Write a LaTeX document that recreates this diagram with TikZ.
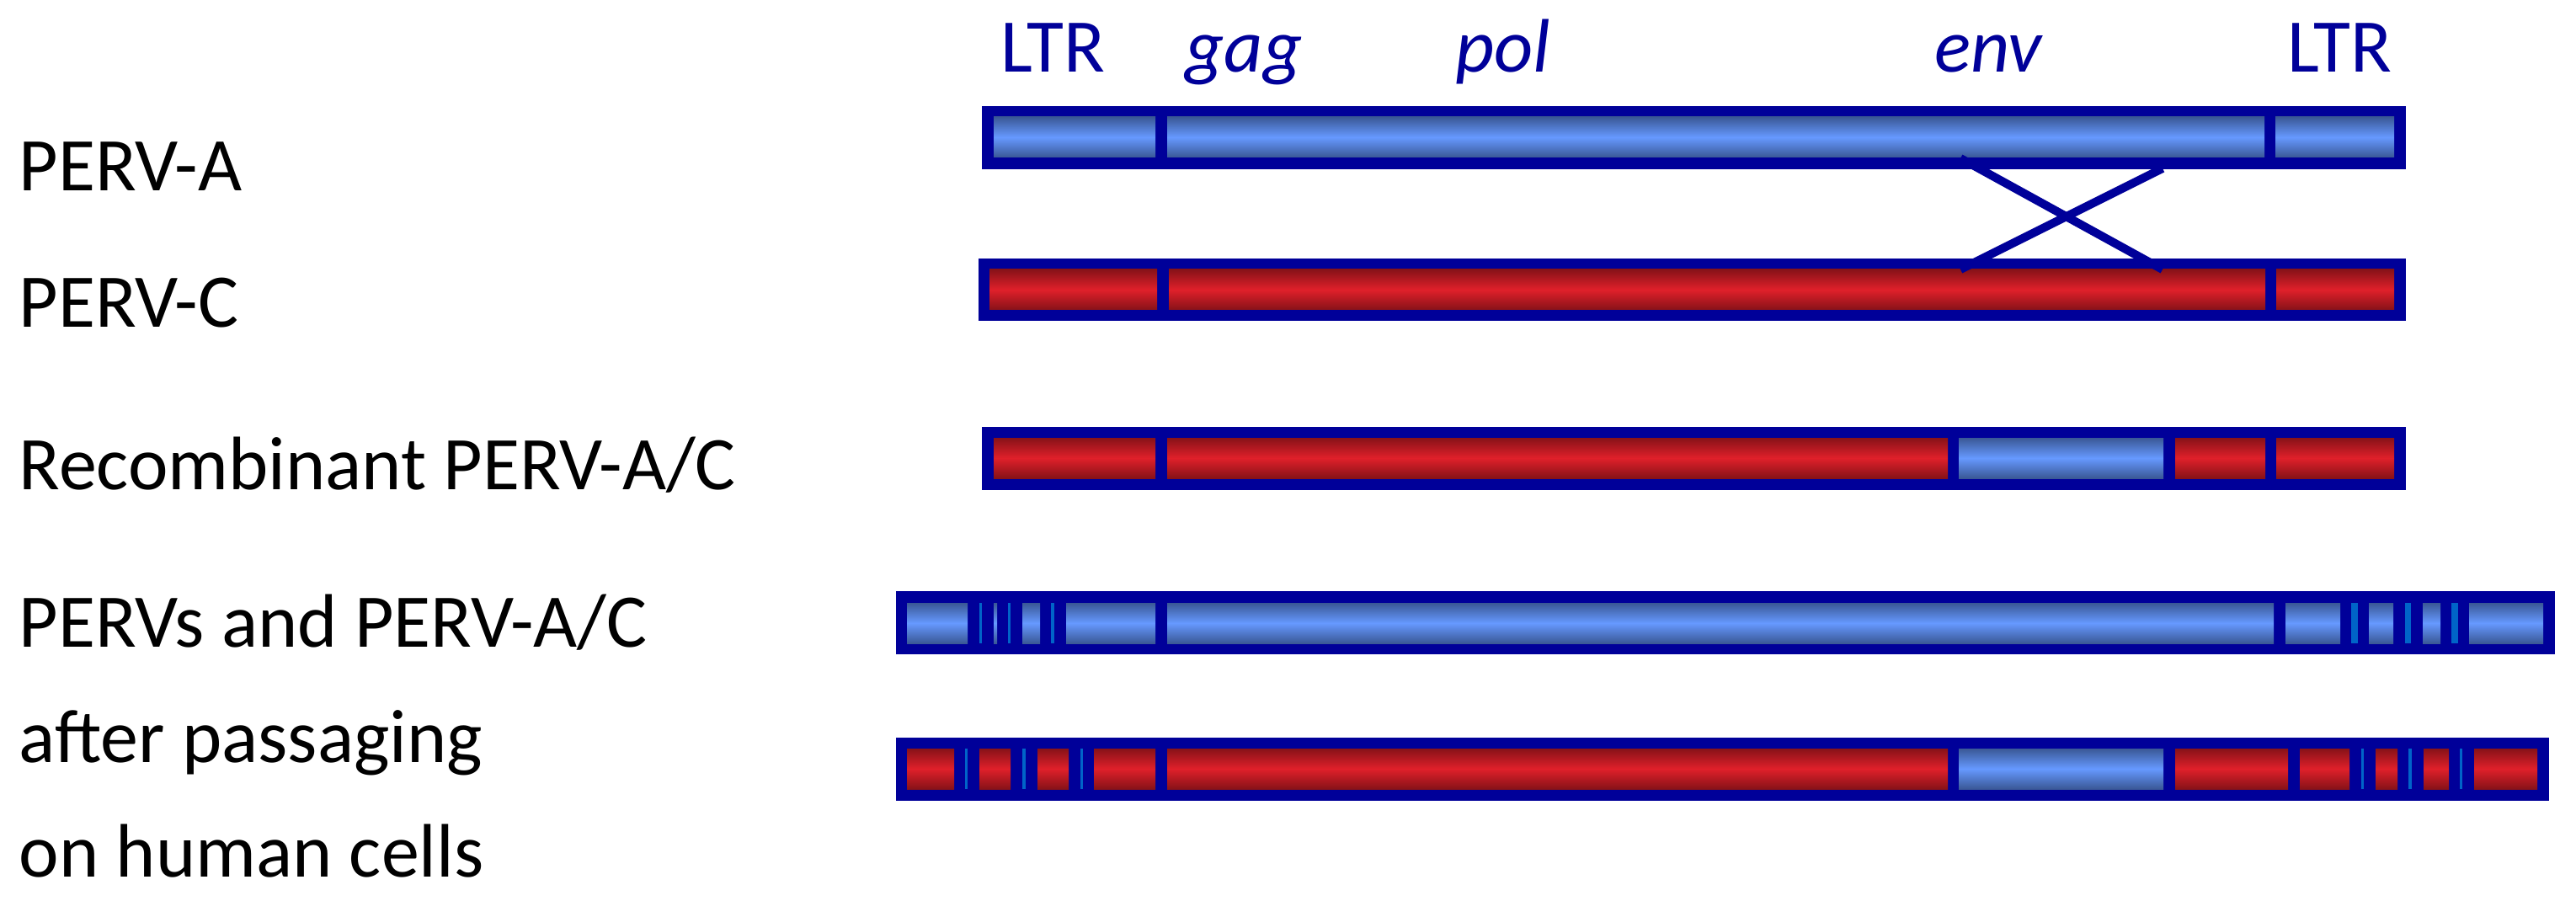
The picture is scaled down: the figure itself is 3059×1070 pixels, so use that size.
\documentclass[tikz,border=0pt]{standalone}
\usepackage{fontspec}
\setmainfont{Carlito}
\definecolor{navy}{RGB}{0,0,153}
\definecolor{bluemid}{RGB}{102,153,255}
\definecolor{blueedge}{RGB}{58,88,150}
\definecolor{redmid}{RGB}{224,32,42}
\definecolor{rededge}{RGB}{135,18,24}
\definecolor{stripeblue}{RGB}{0,100,200}
\tikzset{
  barframe/.style={fill=navy},
  blueseg/.style={top color=blueedge, bottom color=blueedge, middle color=bluemid},
  redseg/.style={top color=rededge, bottom color=rededge, middle color=redmid},
  stripeseg/.style={fill=stripeblue},
  crossline/.style={draw=navy, line width=0.1cm},
  toplabel/.style={anchor=base, inner sep=0pt, text=navy, font=\fontsize{25.6pt}{30pt}\selectfont},
  leftlabel/.style={anchor=base west, inner sep=0pt, text=black, font=\fontsize{25.6pt}{30pt}\selectfont}
}
\begin{document}
\begin{tikzpicture}[x=0.01cm, y=-0.01cm]
\useasboundingbox (0,0) rectangle (3059,1070);

% top labels
\node[toplabel] (ltr1) at (1250,86) {LTR};
\node[toplabel] (gag) at (1477,86) {\itshape gag};
\node[toplabel] (pol) at (1785,86) {\itshape pol};
\node[toplabel] (env) at (2361,86) {\itshape env};
\node[toplabel] (ltr2) at (2778,86) {LTR};

% left labels
\node[leftlabel] (la) at (22,226.7) {PERV-A};
\node[leftlabel] (lc) at (22,389) {PERV-C};
\node[leftlabel] (lr) at (22,581.7) {Recombinant PERV-A/C};
\node[leftlabel] (lp) at (22,768.3) {PERVs and PERV-A/C};
\node[leftlabel] (lafter) at (22,905) {after passaging};
\node[leftlabel] (lon) at (22,1041.7) {on human cells};

% bar 1: PERV-A
\fill[barframe] (1166,126) rectangle (2857,200.7);
\foreach \a/\b in {1180/1372, 1386/2689, 2702/2843}
  \shade[blueseg] (\a,139) rectangle (\b,187);

% bar 2: PERV-C
\fill[barframe] (1162,307) rectangle (2857,381);
\foreach \a/\b in {1175/1374, 1388/2690, 2703/2843}
  \shade[redseg] (\a,320) rectangle (\b,368);

% crossing
\coordinate (xa1) at (2328,188);
\coordinate (xa2) at (2568,200);
\coordinate (xc1) at (2328,320);
\coordinate (xc2) at (2568,320);
\draw[crossline] (xa1) -- (xc2);
\draw[crossline] (xc1) -- (xa2);

% bar 3: recombinant
\fill[barframe] (1166,507) rectangle (2857,581.7);
\foreach \a/\b in {1180/1372, 1386/2313, 2583/2690, 2703/2843}
  \shade[redseg] (\a,520) rectangle (\b,568);
\shade[blueseg] (2326,520) rectangle (2569,568);

% bar 4: PERVs after passaging
\fill[barframe] (1064,702) rectangle (3034,777);
\foreach \a/\b in {1077/1149, 1180/1184, 1214/1235, 1266/1372, 1386/2700, 2714/2779, 2813/2842, 2877/2898, 2932/3020}
  \shade[blueseg] (\a,716) rectangle (\b,764);
\foreach \a/\b in {1163/1166, 1197/1200, 1248/1252, 2792/2800, 2856/2863, 2911/2919}
  \fill[stripeseg] (\a,716) rectangle (\b,764);

% bar 5: PERV-A/C after passaging
\fill[barframe] (1064,876) rectangle (3027,951);
\foreach \a/\b in {1077/1133, 1163/1200, 1232/1269, 1299/1372, 1386/2313, 2583/2717, 2731/2790, 2821/2847, 2878/2908, 2938/3013}
  \shade[redseg] (\a,889) rectangle (\b,937);
\shade[blueseg] (2326,889) rectangle (2569,937);
\foreach \a/\b in {1146/1149, 1214/1218, 1283/1286, 2804/2807, 2860/2864, 2921/2924}
  \fill[stripeseg] (\a,889) rectangle (\b,937);
\end{tikzpicture}
\end{document}
